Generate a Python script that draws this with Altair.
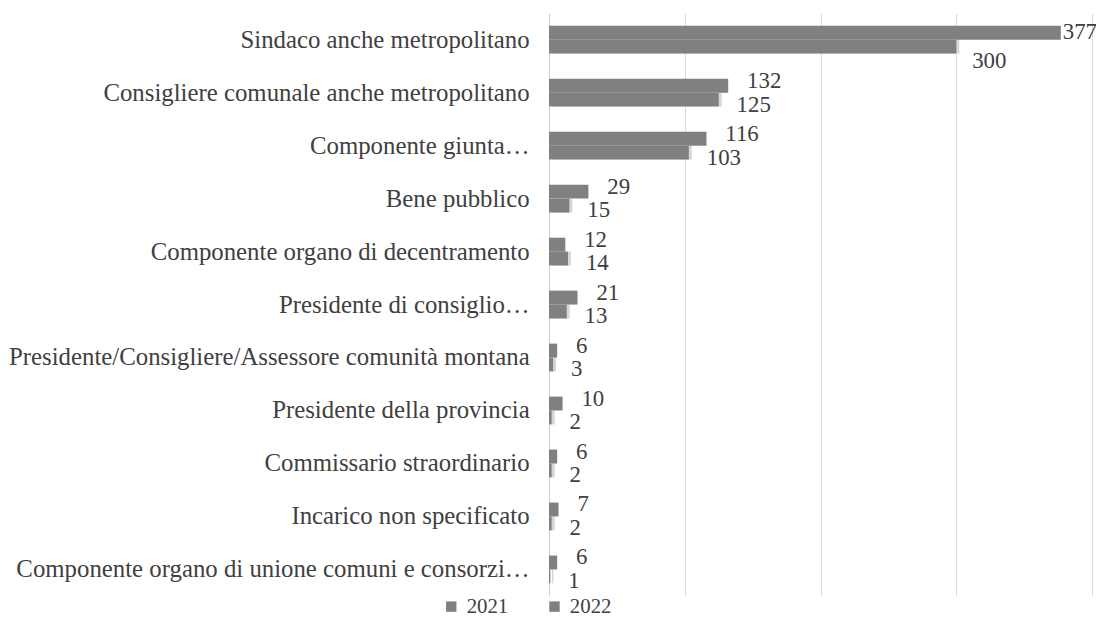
import altair as alt
import pandas as pd

categories = [
    "Sindaco anche metropolitano",
    "Consigliere comunale anche metropolitano",
    "Componente giunta…",
    "Bene pubblico",
    "Componente organo di decentramento",
    "Presidente di consiglio…",
    "Presidente/Consigliere/Assessore comunità montana",
    "Presidente della provincia",
    "Commissario straordinario",
    "Incarico non specificato",
    "Componente organo di unione comuni e consorzi…",
]
v2021 = [377, 132, 116, 29, 12, 21, 6, 10, 6, 7, 6]
v2022 = [300, 125, 103, 15, 14, 13, 3, 2, 2, 2, 1]
years = ["2021", "2022"]

rows = []
for c, a, b in zip(categories, v2021, v2022):
    rows.append({"cat": c, "year": years[0], "value": a})
    rows.append({"cat": c, "year": years[1], "value": b})
df = pd.DataFrame(rows)

FONT = "Liberation Serif"
TXT = "#404040"
BAR = "#808080"
top_cat = categories[0]

y_enc = alt.Y("cat:N", sort=categories, title=None,
              scale=alt.Scale(paddingInner=0.475, paddingOuter=0.2375),
              axis=alt.Axis(labelFont=FONT, labelFontSize=25, labelColor=TXT,
                            labelPadding=20, ticks=False, domainColor="#d0d0d0",
                            labelLimit=800))
x_enc = alt.X("value:Q", title=None,
              scale=alt.Scale(domain=[0, 400], nice=False),
              axis=alt.Axis(values=[0, 100, 200, 300, 400], labels=False, ticks=False,
                            domain=False, grid=True, gridColor="#d9d9d9"))
yo = alt.YOffset("year:N", sort=years)

base = alt.Chart(df)

shadow = base.transform_filter(alt.datum.year == "2022").mark_bar(
    color="#c4c4c4", opacity=0.7, xOffset=3, x2Offset=3, yOffset=3, y2Offset=3
).encode(y=y_enc, x=x_enc, yOffset=yo)

bars = base.mark_bar().encode(
    y=y_enc, x=x_enc, yOffset=yo,
    color=alt.Color("year:N", sort=years,
                    scale=alt.Scale(domain=years, range=[BAR, BAR]),
                    legend=alt.Legend(title=None, orient="none", direction="horizontal",
                                      legendX=-109, legendY=587, labelFont=FONT,
                                      labelFontSize=21, labelColor=TXT, symbolType="square",
                                      symbolSize=110, columnPadding=36, labelOffset=5)),
)

def lab(year, dx, dy, keep_top):
    cond = (alt.datum.year == year) & ((alt.datum.cat == top_cat) if keep_top else (alt.datum.cat != top_cat))
    return base.transform_filter(cond).mark_text(
        font=FONT, fontSize=23, color=TXT, align="left", baseline="middle", dx=dx, dy=dy
    ).encode(y=y_enc, x=x_enc, yOffset=yo, text="value:Q")

chart = alt.layer(
    shadow, bars,
    lab("2021", 19, -5, False), lab("2022", 18, 5, False),
    lab("2021", 2, -1, True), lab("2022", 16, 15, True),
).properties(
    width=547, height=587,
    autosize=alt.AutoSizeParams(type="none"),
    padding={"left": 545, "top": 3, "right": 4, "bottom": 22},
).configure_view(stroke=None)

chart.save("out.html", embed_options={"renderer": "svg", "actions": False})
